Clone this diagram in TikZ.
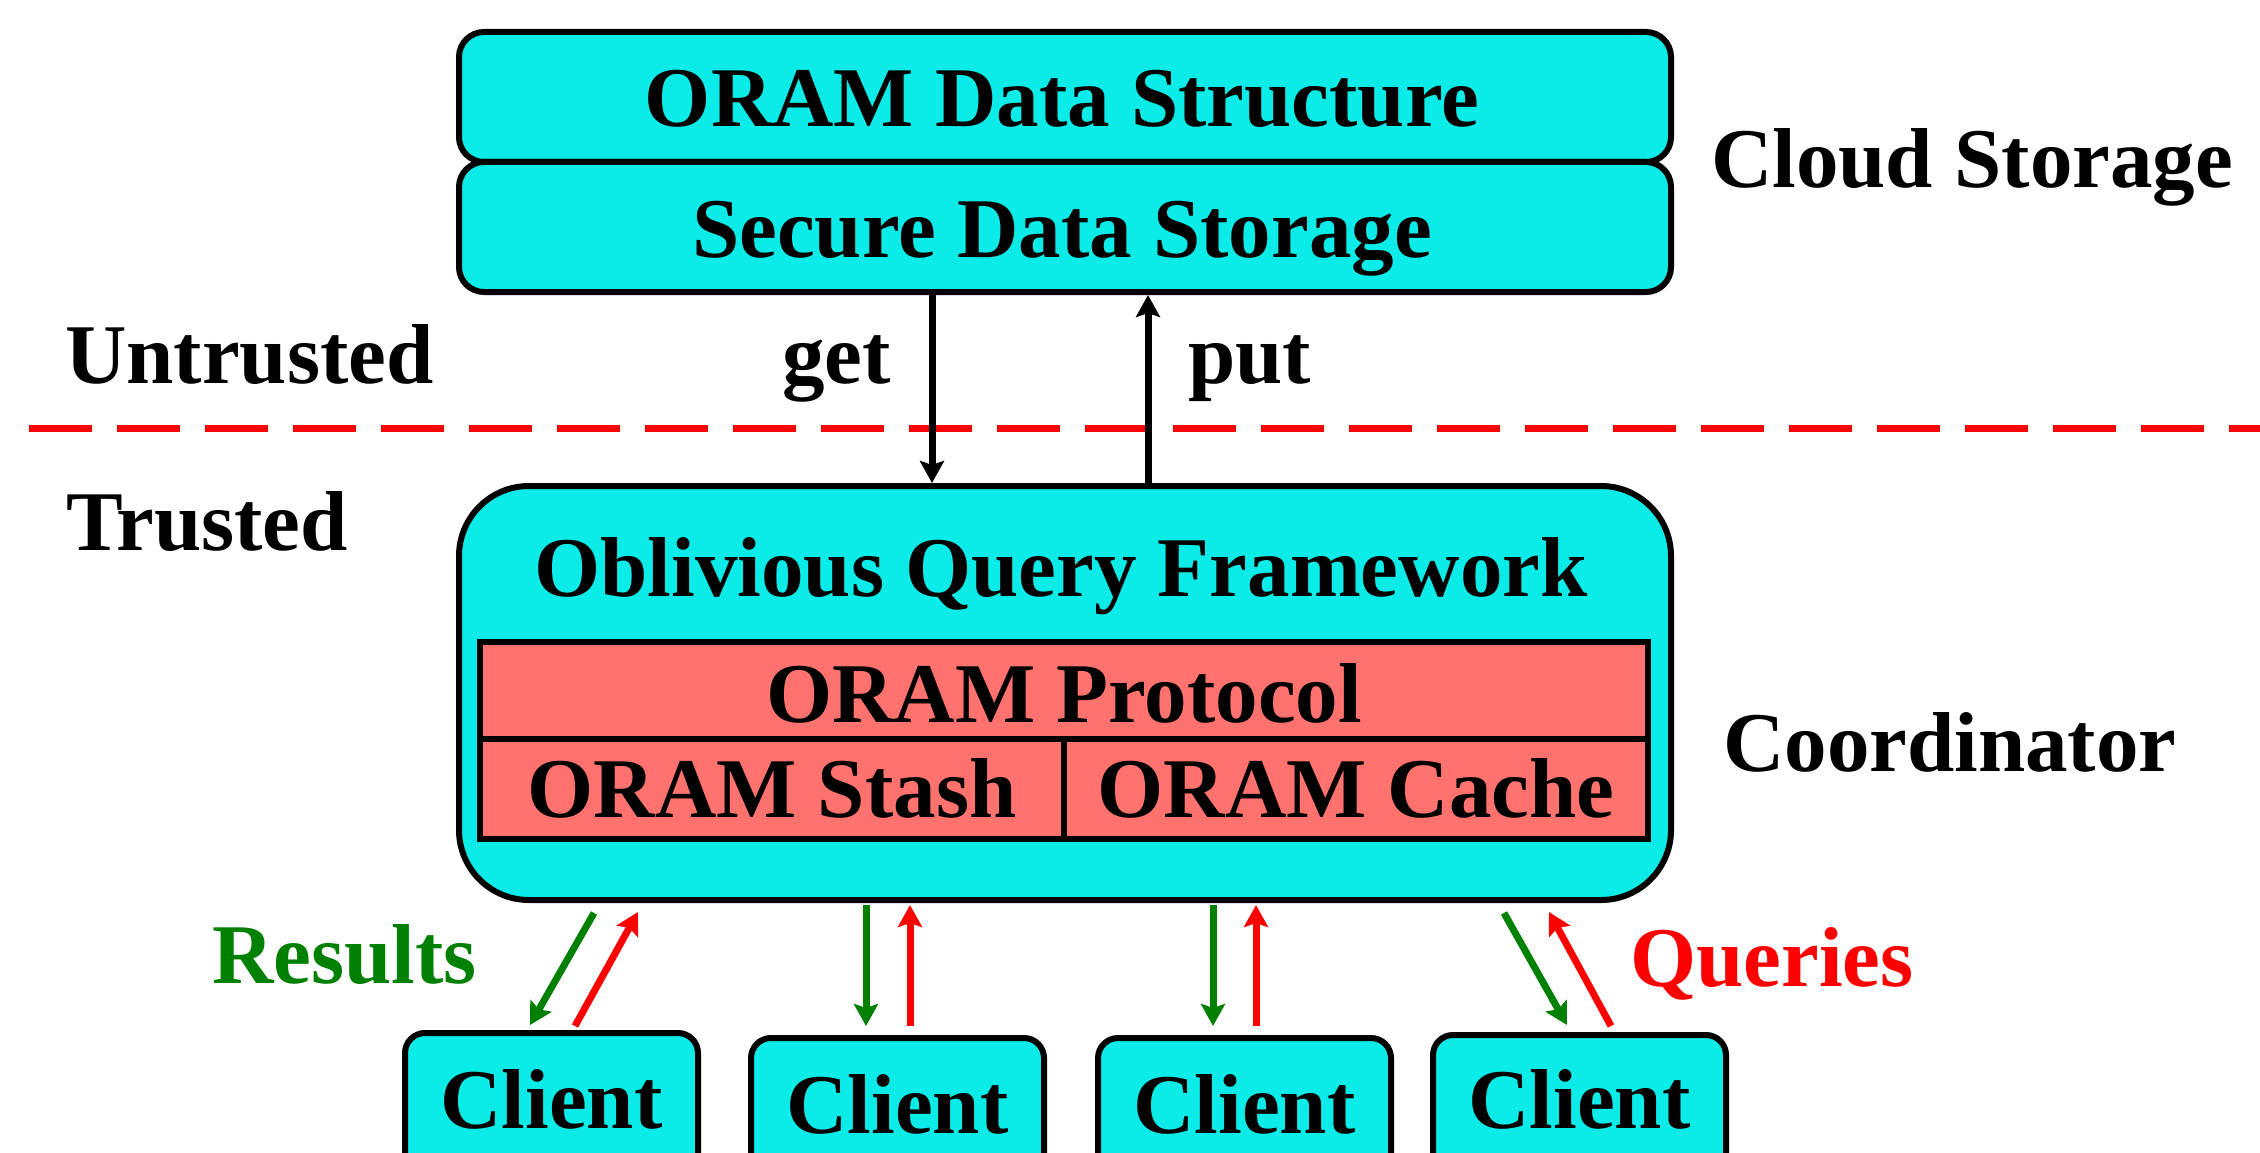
\documentclass[tikz,border=0pt]{standalone}
\usepackage{fontspec}
\setmainfont{Liberation Serif}
\usetikzlibrary{arrows.meta}

\definecolor{boxcyan}{RGB}{11,236,232}
\definecolor{protored}{RGB}{255,114,110}
\definecolor{resgreen}{RGB}{0,128,0}
\definecolor{qryred}{RGB}{255,0,0}

\tikzset{
  lbl/.style={font=\bfseries\fontsize{85}{100}\selectfont, inner sep=0pt, anchor=base},
  cyanbox/.style={draw, line width=6pt, fill=boxcyan, rounded corners=25pt,
    inner sep=0pt, anchor=north west},
  redcell/.style={draw, line width=6pt, fill=protored, inner sep=0pt, anchor=north west},
  tip/.style={-{Stealth[length=22pt,width=24pt,inset=4pt]}},
  blk/.style={tip, line width=7pt, black},
  resarrow/.style={tip, line width=7pt, resgreen},
  qryarrow/.style={tip, line width=7pt, qryred},
  trustline/.style={line width=7pt, qryred, dash pattern=on 63pt off 25pt},
}

\begin{document}
\begin{tikzpicture}[x=1pt,y=-1pt]
\useasboundingbox (0,0) rectangle (2260,1153);
\clip (0,0) rectangle (2260,1153);

% cloud storage stack
\node[cyanbox, minimum width=1212pt, minimum height=130pt] (ods) at (456,29) {};
\node[cyanbox, minimum width=1212pt, minimum height=130pt] (sds) at (456,159) {};
\node[lbl] (odsT) at (1062,127) {ORAM Data Structure};
\node[lbl] (sdsT) at (1062,257) {Secure Data Storage};
\node[lbl, anchor=base west] (cloud) at (1711,187) {Cloud Storage};

% trust boundary
\coordinate (bl) at (29,428);
\coordinate (br) at (2262,428);
\draw[trustline] (bl) -- (br);
\node[lbl, anchor=base west] (untr) at (65,383) {Untrusted};
\node[lbl, anchor=base west] (tr) at (66,550) {Trusted};

% coordinator
\node[cyanbox, rounded corners=70pt, minimum width=1212pt, minimum height=414pt] (oqf) at (456,483) {};
\node[lbl] (oqfT) at (1061,596) {Oblivious Query Framework};
\node[redcell, minimum width=1168pt, minimum height=97pt] (proto) at (477,639) {};
\node[redcell, minimum width=584pt, minimum height=100pt] (stash) at (477,736) {};
\node[redcell, minimum width=584pt, minimum height=100pt] (cache) at (1061,736) {};
\node[lbl] (protoT) at (proto.center |- 0,722) {ORAM Protocol};
\node[lbl] (stashT) at (stash.center |- 0,817) {ORAM Stash};
\node[lbl] (cacheT) at (cache.center |- 0,817) {ORAM Cache};
\node[lbl, anchor=base west] (coord) at (1723,771) {Coordinator};

% get / put
\draw[blk] (932,0 |- sds.south) -- (932,0 |- oqf.north);
\draw[blk] (1148,0 |- oqf.north) -- (1148,0 |- sds.south);
\node[lbl, anchor=base west] (getT) at (782,383) {get};
\node[lbl, anchor=base west] (putT) at (1188,383) {put};

% clients
\node[cyanbox, rounded corners=20pt, minimum width=293pt, minimum height=170pt] (c1) at (402,1030) {};
\node[cyanbox, rounded corners=20pt, minimum width=293pt, minimum height=170pt] (c2) at (748,1035) {};
\node[cyanbox, rounded corners=20pt, minimum width=293pt, minimum height=170pt] (c3) at (1095,1035) {};
\node[cyanbox, rounded corners=20pt, minimum width=293pt, minimum height=170pt] (c4) at (1430,1032) {};
\node[lbl] (c1T) at (c1.north |- 0,1128) {Client};
\node[lbl] (c2T) at (c2.north |- 0,1133) {Client};
\node[lbl] (c3T) at (c3.north |- 0,1133) {Client};
\node[lbl] (c4T) at (c4.north |- 0,1128) {Client};

% results and queries
\coordinate (r1a) at (594,913);  \coordinate (r1b) at (530,1025);
\coordinate (q1a) at (575,1026); \coordinate (q1b) at (638,912);
\coordinate (r2a) at (866,905);  \coordinate (r2b) at (866,1026);
\coordinate (q2a) at (910,1026); \coordinate (q2b) at (910,905);
\coordinate (r3a) at (1213,905); \coordinate (r3b) at (1213,1026);
\coordinate (q3a) at (1256,1026);\coordinate (q3b) at (1256,905);
\coordinate (r4a) at (1504,913); \coordinate (r4b) at (1567,1025);
\coordinate (q4a) at (1611,1026);\coordinate (q4b) at (1549,912);
\foreach \i in {1,2,3,4} {
  \draw[resarrow] (r\i a) -- (r\i b);
  \draw[qryarrow] (q\i a) -- (q\i b);
}
\node[lbl, anchor=base west, text=resgreen] (resT) at (212,983) {Results};
\node[lbl, anchor=base west, text=qryred] (qryT) at (1630,986) {Queries};
\end{tikzpicture}
\end{document}
